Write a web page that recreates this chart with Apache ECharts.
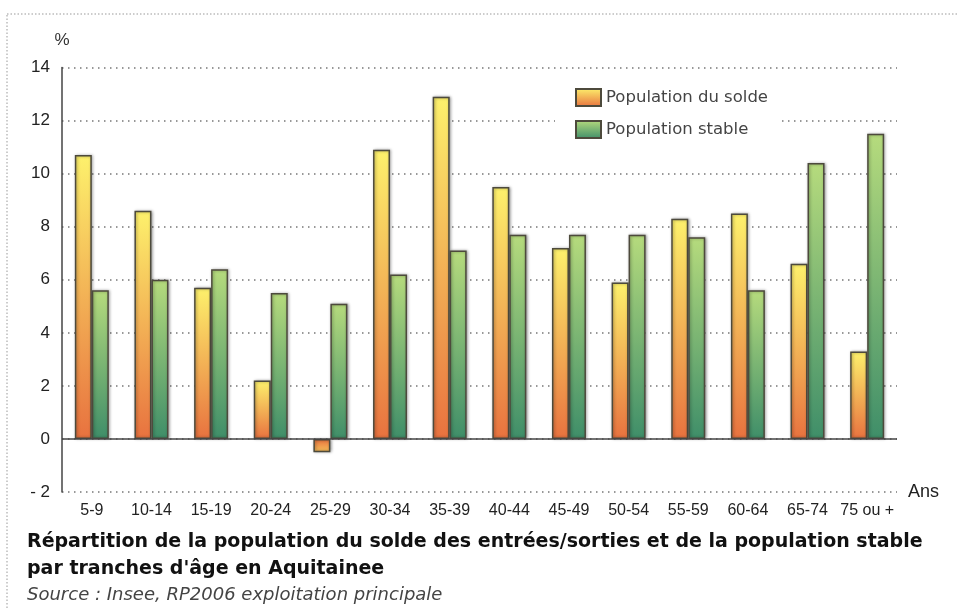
<!DOCTYPE html>
<html>
<head>
<meta charset="utf-8">
<script src="https://cdn.jsdelivr.net/npm/echarts@6/dist/echarts.min.js"></script>
<style>
html,body{margin:0;padding:0;background:#fff;}
#c{width:957px;height:608px;}
</style>
</head>
<body>
<div id="c"></div>
<script>
const categories = ['5-9','10-14','15-19','20-24','25-29','30-34','35-39','40-44','45-49','50-54','55-59','60-64','65-74','75 ou +'];
const soldeValues = [10.7, 8.6, 5.7, 2.2, -0.5, 10.9, 12.9, 9.5, 7.2, 5.9, 8.3, 8.5, 6.6, 3.3];
const stableValues = [5.6, 6.0, 6.4, 5.5, 5.1, 6.2, 7.1, 7.7, 7.7, 7.7, 7.6, 5.6, 10.4, 11.5];
const seriesNames = ['Population du solde', 'Population stable'];
const titleLine1 = "Répartition de la population du solde des entrées/sorties et de la population stable";
const titleLine2 = "par tranches d'âge en Aquitainee";
const sourceText = "Source : Insee, RP2006 exploitation principale";

function grad(top, bottom) {
  return new echarts.graphic.LinearGradient(0, 0, 0, 1, [
    {offset: 0, color: top}, {offset: 1, color: bottom}
  ]);
}
const soldeGrad = grad('#fdf16c', '#e8723f');
const soldeGradRev = grad('#e8723f', '#f6c15a');
const stableGrad = grad('#b6db7d', '#3f8e69');

const baseItem = {
  borderColor: '#4d4a3c',
  borderWidth: 1.5,
  shadowColor: 'rgba(0,0,0,0.35)',
  shadowBlur: 3,
  shadowOffsetX: 1,
  shadowOffsetY: 0
};

const chart = echarts.init(document.getElementById('c'), null, {renderer: 'canvas'});
const labelFont = 'Liberation Sans, Arial, sans-serif';
const wideFont = 'DejaVu Sans, sans-serif';
chart.setOption({
  animation: false,
  backgroundColor: '#fff',
  grid: {left: 62, right: 60, top: 67.5, bottom: 116, containLabel: false},
  legend: {
    orient: 'vertical',
    left: 555,
    top: 80,
    padding: [8, 13, 8, 20],
    itemWidth: 25,
    itemHeight: 17,
    itemGap: 13,
    backgroundColor: '#fff',
    icon: 'rect',
    textStyle: {fontFamily: wideFont, fontSize: 16.5, color: '#444', padding: [5, 0, 0, 0]},
    data: seriesNames
  },
  xAxis: {
    type: 'category',
    data: categories,
    name: 'Ans',
    nameLocation: 'end',
    nameGap: 11,
    nameTextStyle: {fontFamily: labelFont, fontSize: 18, color: '#222', padding: [0, 0, 8, 0]},
    axisLine: {show: false, onZero: false},
    axisTick: {show: false},
    axisLabel: {fontFamily: labelFont, fontSize: 16, color: '#222', margin: 11, interval: 0}
  },
  yAxis: {
    type: 'value',
    min: -2, max: 14, interval: 2,
    name: '%',
    nameLocation: 'end',
    nameGap: 19,
    nameTextStyle: {fontFamily: labelFont, fontSize: 17, color: '#333', align: 'center'},
    axisLine: {show: true, lineStyle: {color: '#444', width: 1.5}},
    axisTick: {show: false},
    axisLabel: {
      fontFamily: labelFont, fontSize: 17, color: '#222', margin: 12,
      formatter: v => v < 0 ? '- ' + Math.abs(v) : String(v)
    },
    splitLine: {show: true, lineStyle: {color: '#777', width: 1.5, type: [1.5, 4.5]}}
  },
  series: [
    {
      name: seriesNames[0],
      type: 'bar',
      barWidth: 17,
      barGap: '0%',
      itemStyle: Object.assign({color: soldeGrad}, baseItem),
      data: soldeValues.map(v => v < 0 ? {value: v, itemStyle: {color: soldeGradRev}} : v),
      markLine: {
        silent: true,
        symbol: 'none',
        label: {show: false},
        lineStyle: {color: '#444', width: 1.5, type: 'solid'},
        data: [{yAxis: 0}]
      }
    },
    {
      name: seriesNames[1],
      type: 'bar',
      barWidth: 17,
      itemStyle: Object.assign({color: stableGrad}, baseItem),
      data: stableValues
    }
  ],
  graphic: [
    {
      type: 'rect', silent: true, z: -1,
      shape: {x: 7, y: 14, width: 980, height: 640},
      style: {fill: 'none', stroke: '#999', lineWidth: 1, lineDash: [1.5, 2]}
    },
    {
      type: 'text', left: 27, top: 533,
      style: {text: titleLine1, fontFamily: wideFont, fontSize: 19, fontWeight: 'bold', fill: '#111'}
    },
    {
      type: 'text', left: 27, top: 560,
      style: {text: titleLine2, fontFamily: wideFont, fontSize: 19, fontWeight: 'bold', fill: '#111'}
    },
    {
      type: 'text', left: 27, top: 586,
      style: {text: sourceText, fontFamily: wideFont, fontSize: 18, fontStyle: 'italic', fill: '#444'}
    }
  ]
});
</script>
</body>
</html>
